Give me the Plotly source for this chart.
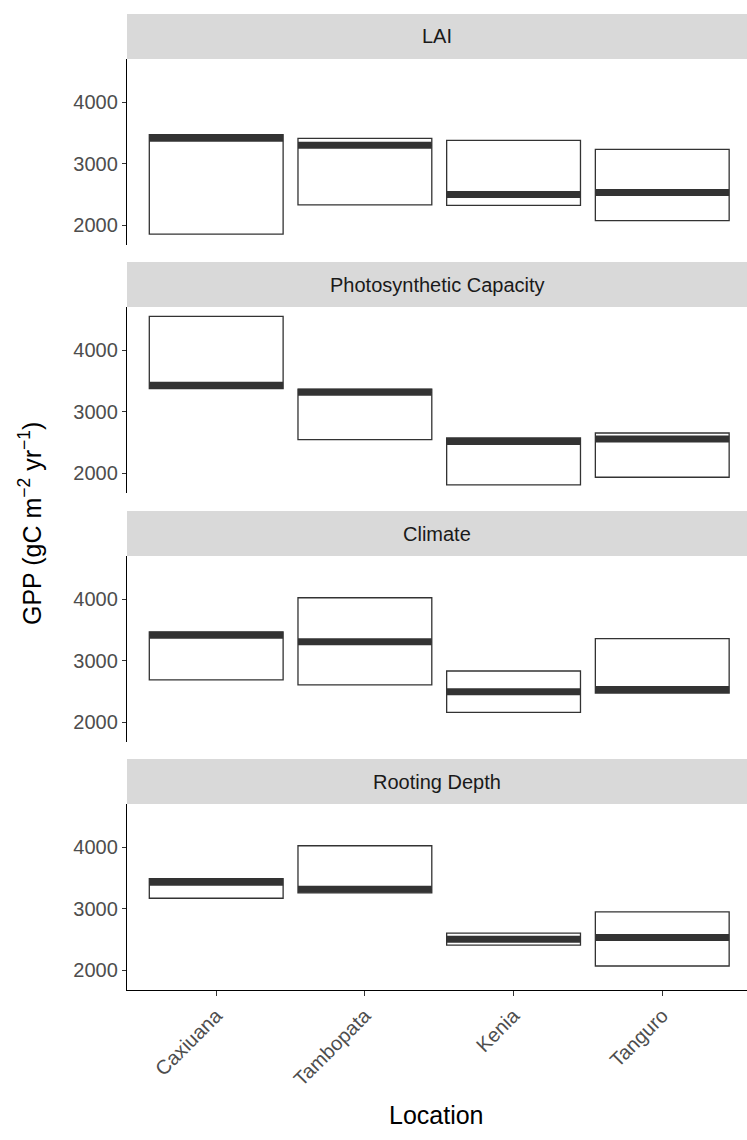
import plotly.graph_objects as go

# Sites along the x axis and the four driver panels
locations = ["Caxiuana", "Tambopata", "Kenia", "Tanguro"]
panels = ["LAI", "Photosynthetic Capacity", "Climate", "Rooting Depth"]

# GPP (gC m-2 yr-1): lower edge, middle and upper edge of each crossbar
lai_lower = [1855, 2333, 2322, 2076]
lai_middle = [3415, 3300, 2499, 2531]
lai_upper = [3472, 3410, 3378, 3233]

pc_lower = [3375, 2547, 1812, 1936]
pc_middle = [3428, 3314, 2515, 2555]
pc_upper = [4547, 3367, 2574, 2654]

clim_lower = [2688, 2608, 2161, 2473]
clim_middle = [3414, 3306, 2495, 2532]
clim_upper = [3468, 4022, 2833, 3360]

root_lower = [3170, 3256, 2410, 2070]
root_middle = [3430, 3315, 2505, 2534]
root_upper = [3488, 4022, 2604, 2949]

y_ticks = [2000, 3000, 4000]

series = [
    (lai_lower, lai_middle, lai_upper),
    (pc_lower, pc_middle, pc_upper),
    (clim_lower, clim_middle, clim_upper),
    (root_lower, root_middle, root_upper),
]

W, H = 747, 1140
M_L, M_R, M_T, M_B = 127, 0, 14, 150
plot_h = H - M_T - M_B
panel_tops_px = [59, 307, 556, 804]
panel_h_px = 186
strip_h_px = 45
bar_width = 0.9
ink = "#333333"
small = 20
big = 25

def frac(px_from_top):
    return (H - M_B - px_from_top) / plot_h

fig = go.Figure()
pos = list(range(len(locations)))

for k, (lo, mid, up) in enumerate(series):
    xa = "x" if k == 0 else f"x{k+1}"
    ya = "y" if k == 0 else f"y{k+1}"
    fig.add_trace(go.Box(
        x=pos, q1=lo, median=mid, q3=up, lowerfence=lo, upperfence=up,
        width=bar_width, whiskerwidth=0, boxpoints=False,
        fillcolor="white", line=dict(color=ink, width=1.3),
        xaxis=xa, yaxis=ya, hoverinfo="skip", showlegend=False,
    ))
    mx, my = [], []
    for i, m in zip(pos, mid):
        mx += [i - bar_width / 2, i + bar_width / 2, None]
        my += [m, m, None]
    fig.add_trace(go.Scatter(
        x=mx, y=my, mode="lines", line=dict(color=ink, width=7),
        xaxis=xa, yaxis=ya, hoverinfo="skip", showlegend=False,
    ))

layout = dict(
    width=W, height=H,
    margin=dict(l=M_L, r=M_R, t=M_T, b=M_B),
    paper_bgcolor="white", plot_bgcolor="white",
    font=dict(family="Liberation Sans, Arial, sans-serif"),
    showlegend=False,
)

shapes, annotations = [], []
for k in range(4):
    sfx = "" if k == 0 else str(k + 1)
    top = frac(panel_tops_px[k])
    bot = frac(panel_tops_px[k] + panel_h_px)
    last = k == 3
    layout["xaxis" + sfx] = dict(
        domain=[0, 1], anchor="y" + sfx, range=[-0.6, 3.57],
        tickvals=pos, ticktext=locations,
        showticklabels=last, ticks="outside" if last else "",
        ticklen=5, tickwidth=1.2, tickcolor=ink,
        tickangle=-45, tickfont=dict(size=small, color="#4D4D4D"),
        showline=last, linecolor="black", linewidth=1.3,
        showgrid=False, zeroline=False,
    )
    if k > 0:
        layout["xaxis" + sfx]["matches"] = "x"
    layout["yaxis" + sfx] = dict(
        domain=[bot, top], anchor="x" + sfx, range=[1680, 4700],
        tickvals=y_ticks, ticks="outside", ticklen=4, tickwidth=1.2,
        tickcolor=ink, tickfont=dict(size=small, color="#4D4D4D"),
        showline=True, linecolor="black", linewidth=1.3,
        showgrid=False, zeroline=False,
    )
    s0 = top
    s1 = frac(panel_tops_px[k] - strip_h_px)
    shapes.append(dict(
        type="rect", xref="paper", yref="paper", x0=0, x1=1, y0=s0, y1=s1,
        fillcolor="#D9D9D9", line=dict(width=0), layer="below",
    ))
    annotations.append(dict(
        text=panels[k], xref="paper", yref="paper", x=0.5, y=(s0 + s1) / 2,
        xanchor="center", yanchor="middle", showarrow=False,
        font=dict(size=small, color="#1A1A1A"),
    ))

annotations.append(dict(
    text="GPP (gC m<sup>\u22122</sup> yr<sup>\u22121</sup>)",
    xref="paper", yref="paper", x=(30 - M_L) / (W - M_L - M_R),
    y=frac(524), xanchor="center", yanchor="middle", textangle=-90,
    showarrow=False, font=dict(size=big, color="black"),
))
annotations.append(dict(
    text="Location", xref="paper", yref="paper", x=(436 - M_L) / (W - M_L - M_R),
    y=frac(1115), xanchor="center", yanchor="middle",
    showarrow=False, font=dict(size=big, color="black"),
))

layout["shapes"] = shapes
layout["annotations"] = annotations
fig.update_layout(**layout)

fig.write_html("out.html")
